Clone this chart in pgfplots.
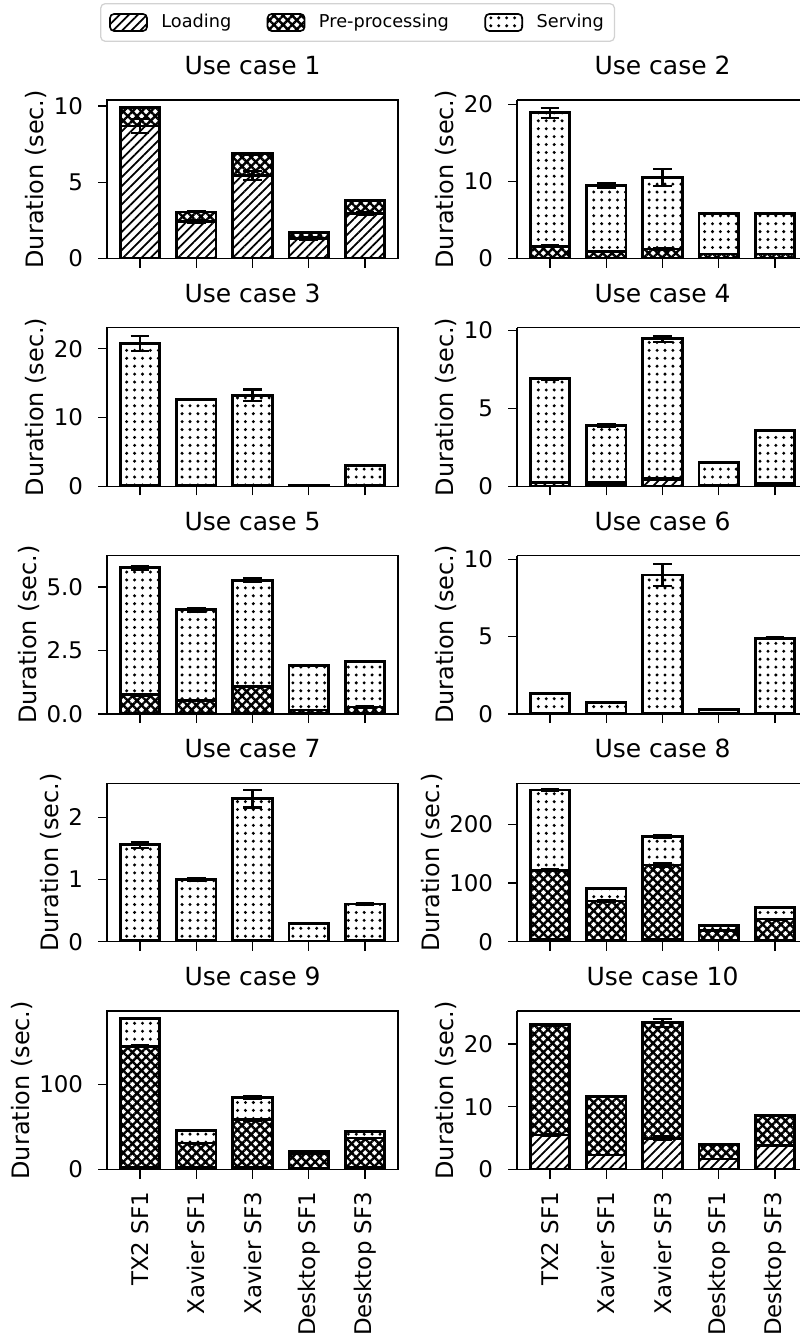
\documentclass[border=0pt]{standalone}
\usepackage{fontspec}
\setmainfont{DejaVu Sans}
\usepackage{pgfplots}
\pgfplotsset{compat=1.18}
\usepackage{pgfplotstable}
\usetikzlibrary{patterns.meta}

% columns: x, Loading (L) + error, Pre-processing (P) + error, Serving (S) + error
\pgfplotstableread{
x L Le P Pe S Se
0 8.69 0.47 1.20 0.05 0.00 0.00
1 2.42 0.12 0.64 0.03 0.00 0.00
2 5.46 0.30 1.42 0.06 0.00 0.00
3 1.33 0.08 0.37 0.02 0.00 0.00
4 2.95 0.10 0.85 0.04 0.00 0.00
}\ucA
\pgfplotstableread{
x L Le P Pe S Se
0 0.05 0 1.55 0.10 17.30 0.65
1 0.05 0 0.90 0.05 8.53 0.35
2 0.05 0 1.20 0.08 9.23 1.08
3 0.05 0 0.55 0.03 5.24 0.05
4 0.05 0 0.55 0.03 5.24 0.05
}\ucB
\pgfplotstableread{
x L Le P Pe S Se
0 0.05 0 0.05 0 20.68 1.15
1 0.05 0 0.05 0 12.50 0.10
2 0.05 0 0.05 0 13.14 0.85
3 0.02 0 0.02 0 0.11 0.00
4 0.05 0 0.05 0 2.92 0.03
}\ucC
\pgfplotstableread{
x L Le P Pe S Se
0 0.25 0 0.03 0 6.62 0.05
1 0.10 0 0.15 0 3.65 0.08
2 0.45 0 0.05 0 8.97 0.20
3 0.02 0 0.02 0 1.50 0.02
4 0.05 0 0.15 0 3.38 0.02
}\ucD
\pgfplotstableread{
x L Le P Pe S Se
0 0.02 0 0.74 0.03 5.00 0.08
1 0.02 0 0.50 0.02 3.59 0.08
2 0.02 0 1.07 0.03 4.18 0.09
3 0.02 0 0.14 0.01 1.74 0.02
4 0.02 0 0.26 0.02 1.79 0.03
}\ucE
\pgfplotstableread{
x L Le P Pe S Se
0 0.02 0 0.02 0 1.31 0.03
1 0.02 0 0.02 0 0.71 0.03
2 0.02 0 0.05 0 8.92 0.72
3 0.01 0 0.01 0 0.26 0.01
4 0.02 0 0.03 0 4.85 0.05
}\ucF
\pgfplotstableread{
x L Le P Pe S Se
0 0.01 0 0.01 0 1.54 0.05
1 0.01 0 0.01 0 0.98 0.02
2 0.01 0 0.01 0 2.28 0.14
3 0.005 0 0.005 0 0.29 0.005
4 0.01 0 0.01 0 0.59 0.01
}\ucG
\pgfplotstableread{
x L Le P Pe S Se
0 5 0.3 117.0 2.0 136.5 1.0
1 3 0.2 66.3 1.5 21.0 1.0
2 4 0.3 126.7 3.0 48.3 3.0
3 2 0.1 16.75 0.5 9.0 0.3
4 3 0.2 35.6 1.0 20.4 0.5
}\ucH
\pgfplotstableread{
x L Le P Pe S Se
0 3.0 0.2 141.7 1.0 32.6 1.0
1 2.0 0.1 29.0 0.5 14.9 0.5
2 2.0 0.1 56.4 1.0 25.9 1.5
3 1.5 0.1 16.9 0.3 3.2 0.2
4 2.0 0.1 34.9 0.5 7.8 0.3
}\ucI
\pgfplotstableread{
x L Le P Pe S Se
0 5.53 0.10 17.51 0.15 0.10 0.05
1 2.34 0.05 9.26 0.10 0.05 0.03
2 5.00 0.30 18.40 0.65 0.10 0.05
3 1.70 0.05 2.24 0.05 0.02 0.00
4 3.83 0.05 4.82 0.10 0.02 0.00
}\ucJ

\pgfplotsset{
  uc/.style={
    scale only axis, width=139.7pt, height=76.1pt,
    ybar stacked, bar width=0.7,
    xmin=-0.585, xmax=4.585, ymin=0,
    enlargelimits=false,
    xtick={0,1,2,3,4}, xticklabels={},
    tick pos=left, tick align=outside, major tick length=4.3pt,
    axis line style={line width=0.6pt},
    every tick/.style={black, line width=0.6pt},
    /pgf/number format/assume math mode=true,
    title style={font=\fontsize{12}{14}\selectfont, at={(0.5,1)}, anchor=base, inner sep=0pt, yshift=6.2pt},
    ylabel={Duration (sec.)},
    ylabel style={font=\fontsize{11.5}{13}\selectfont, at={(ticklabel cs:0.5,3.2pt)}, anchor=south, inner sep=0pt},
    yticklabel style={font=\fontsize{11}{13}\selectfont, anchor=east, inner sep=0pt, xshift=-7pt},
    xticklabel style={font=\fontsize{11}{13}\selectfont, rotate=90, anchor=east, inner sep=0pt, xshift=-6.2pt},
    error bars/y dir=both, error bars/y explicit,
    error bars/error mark options={rotate=90, line width=1pt, mark size=4.5pt, black},
    error bars/error bar style={line width=1pt, black},
    legend image code/.code={\draw[#1, line width=0.8pt] (0pt,-4.1pt) rectangle (17.8pt,4.1pt);},
  },
  % right column: the figure is cut at its right edge, so the right spine is not shown
  ucright/.style={uc, width=135.84pt, xmax=4.443, title style={at={(0.5144,1)}},
    axis x line*=box, axis y line*=left, tick pos=left},
  loadbar/.style={draw=black, line width=1.3pt, pattern={Lines[angle=45, distance=3.1pt, line width=0.85pt]}, pattern color=black},
  prebar/.style={draw=black, line width=1.3pt, pattern={Hatch[angle=45, distance=3.1pt, line width=1.15pt]}, pattern color=black},
  servbar/.style={draw=black, line width=1.3pt, pattern={Dots[distance=3.8pt, radius=0.8pt]}, pattern color=black},
}

\newcommand{\ucplots}[1]{%
  \addplot[loadbar] table[x=x, y=L, y error=Le] {#1};
  \addplot[prebar] table[x=x, y=P, y error=Pe] {#1};
  \addplot[servbar] table[x=x, y=S, y error=Se] {#1};
}

\begin{document}
\begin{tikzpicture}
\path (0,0) rectangle (384.48pt,-643.2pt);
% row 1
\begin{axis}[uc, at={(51.36pt,-48pt)}, anchor=north west, title={Use case 1}, ymax=10.39, ytick={0,5,10},
  legend columns=3,
  legend style={at={(0.861,1.489)}, anchor=center, draw=gray!35, rounded corners=2pt, line width=0.6pt,
    font=\fontsize{8.5}{10}\selectfont, inner xsep=4pt, inner ysep=4pt,
    nodes={inner sep=1pt},
    /tikz/every odd column/.append style={column sep=5.5pt},
    /tikz/every even column/.append style={column sep=16pt}},
  ]
  \ucplots{\ucA}
  \legend{Loading, Pre-processing, Serving}
\end{axis}
\begin{axis}[ucright, at={(248.16pt,-48pt)}, anchor=north west, title={Use case 2}, ymax=20.56, ytick={0,10,20}]
  \ucplots{\ucB}
\end{axis}
% row 2
\begin{axis}[uc, at={(51.36pt,-157.32pt)}, anchor=north west, title={Use case 3}, ymax=23.07, ytick={0,10,20}]
  \ucplots{\ucC}
\end{axis}
\begin{axis}[ucright, at={(248.16pt,-157.32pt)}, anchor=north west, title={Use case 4}, ymax=10.17, ytick={0,5,10}]
  \ucplots{\ucD}
\end{axis}
% row 3
\begin{axis}[uc, at={(51.36pt,-266.64pt)}, anchor=north west, title={Use case 5}, ymax=6.24, ytick={0,2.5,5}, yticklabels={0.0,2.5,5.0}]
  \ucplots{\ucE}
\end{axis}
\begin{axis}[ucright, at={(248.16pt,-266.64pt)}, anchor=north west, title={Use case 6}, ymax=10.24, ytick={0,5,10}]
  \ucplots{\ucF}
\end{axis}
% row 4
\begin{axis}[uc, at={(51.36pt,-375.96pt)}, anchor=north west, title={Use case 7}, ymax=2.55, ytick={0,1,2}]
  \ucplots{\ucG}
\end{axis}
\begin{axis}[ucright, at={(248.16pt,-375.96pt)}, anchor=north west, title={Use case 8}, ymax=270, ytick={0,100,200}]
  \ucplots{\ucH}
\end{axis}
% row 5
\begin{axis}[uc, at={(51.36pt,-485.28pt)}, anchor=north west, title={Use case 9}, ymax=186, ytick={0,100},
  xticklabels={TX2 SF1, Xavier SF1, Xavier SF3, Desktop SF1, Desktop SF3}]
  \ucplots{\ucI}
\end{axis}
\begin{axis}[ucright, at={(248.16pt,-485.28pt)}, anchor=north west, title={Use case 10}, ymax=25.27, ytick={0,10,20},
  xticklabels={TX2 SF1, Xavier SF1, Xavier SF3, Desktop SF1, Desktop SF3}]
  \ucplots{\ucJ}
\end{axis}
\end{tikzpicture}
\end{document}
